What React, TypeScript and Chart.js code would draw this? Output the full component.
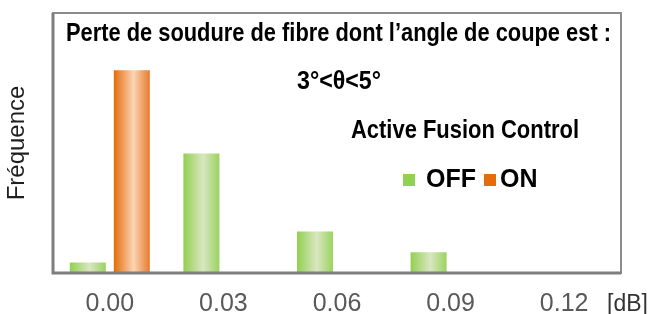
import React, { useEffect, useRef } from "react";
import { Chart, registerables } from "chart.js";

Chart.register(...registerables);

const categories = ["0.00", "0.03", "0.06", "0.09", "0.12"];
const offValues = [2, 23, 8, 4, 0];
const onValues = [39, 0, 0, 0, 0];
const seriesLabels = ["OFF", "ON"];
const yMax = 50;
const titleLine1 = "Perte de soudure de fibre dont l\u2019angle de coupe est :";
const titleLine2 = "3°<θ<5°";
const legendTitle = "Active Fusion Control";
const yTitle = "Fréquence";
const unitLabel = "[dB]";

const GREEN = "#92D050";
const ORANGE = "#E46C0A";

const FONT = '"Liberation Sans", Arial, sans-serif';
const NARROW = '"Liberation Sans Narrow", "Arial Narrow", "Liberation Sans", Arial, sans-serif';

const gradientPlugin = {
  id: "barGradient",
  beforeDatasetsDraw(chart: any) {
    const ctx = chart.ctx;
    chart.data.datasets.forEach((ds: any, di: number) => {
      const meta = chart.getDatasetMeta(di);
      meta.data.forEach((el: any) => {
        const w = el.width;
        const x0 = el.x - w / 2;
        const g = ctx.createLinearGradient(x0, 0, x0 + w, 0);
        if (di === 0) {
          g.addColorStop(0, "#92D050");
          g.addColorStop(0.55, "#D9E6C2");
          g.addColorStop(1, "#9AD35E");
        } else {
          g.addColorStop(0, "#E46C0A");
          g.addColorStop(0.55, "#FCD5B4");
          g.addColorStop(1, "#E67B2C");
        }
        if (el.options) el.options.backgroundColor = g;
      });
    });
  },
};

const decorPlugin = {
  id: "decor",
  afterDraw(chart: any) {
    const ctx = chart.ctx;
    const a = chart.chartArea;
    ctx.save();
    // frame
    ctx.strokeStyle = "#8C8C8C";
    ctx.lineWidth = 2;
    ctx.strokeRect(a.left, a.top, a.right - a.left, a.bottom - a.top);
    ctx.strokeStyle = "#7F7F7F";
    ctx.lineWidth = 3;
    ctx.beginPath();
    ctx.moveTo(a.left, a.top);
    ctx.lineTo(a.left, a.bottom);
    ctx.lineTo(a.right, a.bottom);
    ctx.stroke();

    // titles
    ctx.fillStyle = "#000";
    ctx.textAlign = "center";
    ctx.textBaseline = "alphabetic";
    ctx.font = `bold 25px ${NARROW}`;
    ctx.fillText(titleLine1, 338.5, 41, 545);
    ctx.fillText(titleLine2, 339, 89, 84);
    ctx.fillText(legendTitle, 465, 138, 228);

    // legend
    const colors = [GREEN, ORANGE];
    ctx.textAlign = "left";
    let x = 403;
    seriesLabels.forEach((lab, i) => {
      ctx.fillStyle = colors[i];
      ctx.fillRect(x, 174, 12, 12);
      x += 12 + (i === 0 ? 11 : 4);
      ctx.fillStyle = "#000";
      ctx.fillText(lab, x, 187);
      x += ctx.measureText(lab).width + 8;
    });

    // unit
    ctx.font = `23px ${FONT}`;
    ctx.fillStyle = "#333333";
    ctx.fillText(unitLabel, 607, 311);
    ctx.restore();
  },
};

export default function App() {
  const ref = useRef<HTMLCanvasElement>(null);
  useEffect(() => {
    document.body.style.margin = "0";
    const chart = new Chart(ref.current!, {
      type: "bar",
      data: {
        labels: categories,
        datasets: [
          {
            label: seriesLabels[0],
            data: offValues,
            backgroundColor: () => GREEN,
            categoryPercentage: 0.775,
            barPercentage: 0.818,
          },
          {
            label: seriesLabels[1],
            data: onValues,
            backgroundColor: () => ORANGE,
            categoryPercentage: 0.775,
            barPercentage: 0.818,
          },
        ],
      },
      options: {
        animation: false,
        responsive: true,
        maintainAspectRatio: false,
        layout: { padding: { top: 13, right: 30, left: 0, bottom: 0 } },
        plugins: {
          legend: { display: false },
          tooltip: { enabled: false },
        },
        scales: {
          x: {
            grid: { display: true, drawOnChartArea: false, drawTicks: false, color: "rgba(0,0,0,0)" },
            border: { display: false },
            ticks: {
              color: "#595959",
              font: { family: FONT, size: 25 },
              padding: 16,
            },
            afterFit: (s: any) => {
              s.height = 41;
            },
          },
          y: {
            min: 0,
            max: yMax,
            grid: { display: false },
            border: { display: false },
            ticks: { display: false },
            title: {
              display: true,
              text: yTitle,
              color: "#1F1F1F",
              font: { family: FONT, size: 24 },
              padding: { top: 3, bottom: 3 },
            },
            afterFit: (s: any) => {
              s.width = 53;
            },
          },
        },
      },
      plugins: [gradientPlugin, decorPlugin],
    });
    return () => chart.destroy();
  }, []);
  return (
    <div style={{ width: 651, height: 314, position: "relative" }}>
      <canvas ref={ref} />
    </div>
  );
}
